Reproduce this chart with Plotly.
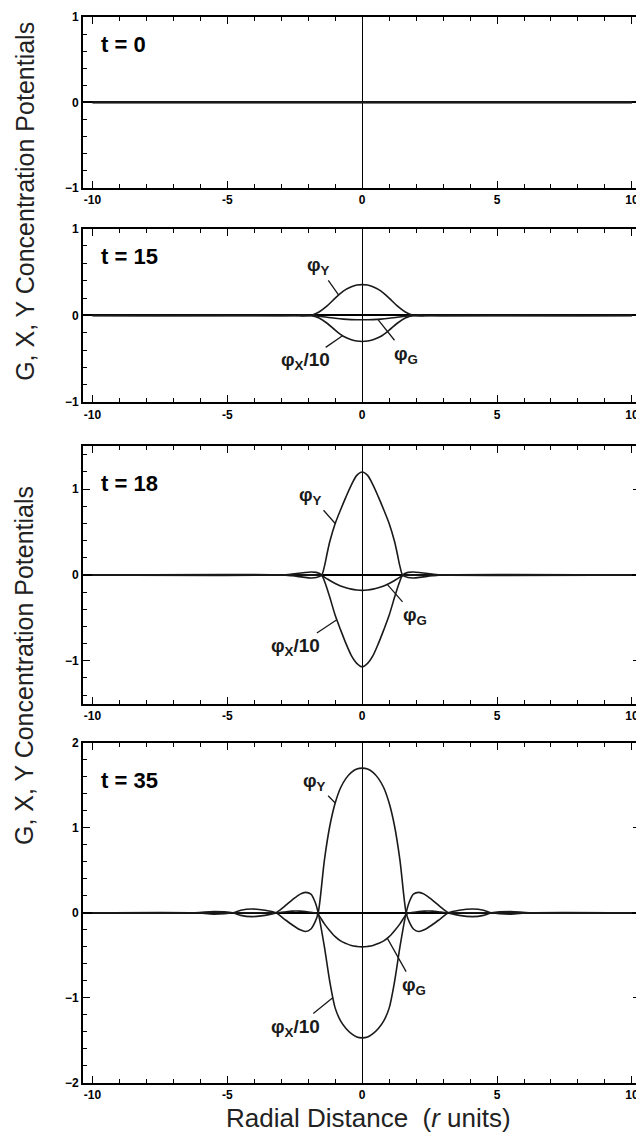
import numpy as np
import plotly.graph_objects as go

# ---------------- data ----------------
T_LABELS = ["t = 0", "t = 15", "t = 18", "t = 35"]
X_TICKS = [-10, -5, 0, 5, 10]
Y_RANGES = [[-1, 1], [-1, 1], [-1.5, 1.5], [-2, 2]]

x_t0 = [-10, 10]
phiY_t0 = [0, 0]
phiX_t0 = [0, 0]
phiG_t0 = [0, 0]

x_t15 = [-10, -2.5, -2.2, -1.9, -1.6, -1.3, -1.0, -0.7, -0.4, -0.2, 0,
         0.2, 0.4, 0.7, 1.0, 1.3, 1.6, 1.9, 2.2, 2.5, 10]
phiY_t15 = [0, 0, -0.005, 0.0, 0.04, 0.11, 0.20, 0.28, 0.33, 0.35, 0.355,
            0.35, 0.33, 0.28, 0.20, 0.11, 0.04, 0.0, -0.005, 0, 0]
phiX_t15 = [0, 0, 0.005, 0.0, -0.03, -0.09, -0.17, -0.24, -0.28, -0.295, -0.30,
            -0.295, -0.28, -0.24, -0.17, -0.09, -0.03, 0.0, 0.005, 0, 0]
phiG_t15 = [0, 0, 0, 0, -0.01, -0.02, -0.032, -0.042, -0.048, -0.05, -0.05,
            -0.05, -0.048, -0.042, -0.032, -0.02, -0.01, 0, 0, 0, 0]

x_t18 = [-10, -3.0, -2.6, -2.2, -1.9, -1.7, -1.5, -1.4, -1.3, -1.2, -1.0, -0.8, -0.6, -0.4, -0.2, 0,
         0.2, 0.4, 0.6, 0.8, 1.0, 1.2, 1.3, 1.4, 1.5, 1.7, 1.9, 2.2, 2.6, 3.0, 10]
phiY_t18 = [0, 0, -0.01, -0.025, -0.035, -0.03, 0.0, 0.10, 0.25, 0.39, 0.60, 0.76, 0.91, 1.05, 1.16, 1.20,
            1.16, 1.05, 0.91, 0.76, 0.60, 0.39, 0.25, 0.10, 0.0, -0.03, -0.035, -0.025, -0.01, 0, 0]
phiX_t18 = [0, 0, 0.01, 0.025, 0.035, 0.03, 0.0, -0.07, -0.16, -0.26, -0.47, -0.64, -0.80, -0.94, -1.03, -1.07,
            -1.03, -0.94, -0.80, -0.64, -0.47, -0.26, -0.16, -0.07, 0.0, 0.03, 0.035, 0.025, 0.01, 0, 0]
phiG_t18 = [0, 0, 0, 0, 0, 0, -0.01, -0.025, -0.045, -0.065, -0.10, -0.13, -0.15, -0.165, -0.175, -0.18,
            -0.175, -0.165, -0.15, -0.13, -0.10, -0.065, -0.045, -0.025, -0.01, 0, 0, 0, 0, 0, 0]

x_t35 = [-10, -6.2, -5.5, -4.8, -4.5, -4.1, -3.6, -3.2, -2.9, -2.6, -2.3, -2.1, -1.9, -1.75, -1.63,
         -1.4, -1.2, -1.0, -0.8, -0.6, -0.4, -0.2, 0,
         0.2, 0.4, 0.6, 0.8, 1.0, 1.2, 1.4,
         1.63, 1.75, 1.9, 2.1, 2.3, 2.6, 2.9, 3.2, 3.6, 4.1, 4.5, 4.8, 5.5, 6.2, 10]
phiY_t35 = [0, 0, -0.015, 0, 0.03, 0.045, 0.03, 0, -0.07, -0.14, -0.20, -0.22, -0.19, -0.11, 0.0,
            0.62, 1.02, 1.29, 1.47, 1.58, 1.65, 1.69, 1.70,
            1.69, 1.65, 1.58, 1.47, 1.29, 1.02, 0.62,
            0.0, -0.11, -0.19, -0.22, -0.20, -0.14, -0.07, 0, 0.03, 0.045, 0.03, 0, -0.015, 0, 0]
phiX_t35 = [0, 0, 0.015, 0, -0.03, -0.045, -0.03, 0, 0.07, 0.15, 0.22, 0.24, 0.22, 0.13, 0.0,
            -0.40, -0.81, -1.12, -1.27, -1.36, -1.42, -1.46, -1.47,
            -1.46, -1.42, -1.36, -1.27, -1.12, -0.81, -0.40,
            0.0, 0.13, 0.22, 0.24, 0.22, 0.15, 0.07, 0, -0.03, -0.045, -0.03, 0, 0.015, 0, 0]
phiG_t35 = [0, 0, 0, 0, 0, 0, 0, 0, 0.01, 0.02, 0.02, 0.015, 0.005, 0.0, -0.02,
            -0.13, -0.21, -0.28, -0.33, -0.36, -0.385, -0.395, -0.40,
            -0.395, -0.385, -0.36, -0.33, -0.28, -0.21, -0.13,
            -0.02, 0.0, 0.005, 0.015, 0.02, 0.02, 0.01, 0, 0, 0, 0, 0, 0, 0, 0]

PANELS = [
    (x_t0, phiY_t0, phiX_t0, phiG_t0),
    (x_t15, phiY_t15, phiX_t15, phiG_t15),
    (x_t18, phiY_t18, phiX_t18, phiG_t18),
    (x_t35, phiY_t35, phiX_t35, phiG_t35),
]

# curve labels: (text, curve index, x on curve, label x, label y) per panel
CURVE_LABELS = [
    [],
    [("φ<sub>Y</sub>", 0, -0.87, -1.63, 0.57),
     ("φ<sub>G</sub>", 2, 0.58, 1.62, -0.45),
     ("φ<sub>X</sub>/10", 1, -0.73, -2.1, -0.53)],
    [("φ<sub>Y</sub>", 0, -1.0, -1.9, 0.92),
     ("φ<sub>G</sub>", 2, 0.93, 1.96, -0.48),
     ("φ<sub>X</sub>/10", 1, -0.94, -2.46, -0.84)],
    [("φ<sub>Y</sub>", 0, -1.0, -1.77, 1.54),
     ("φ<sub>G</sub>", 2, 0.93, 1.93, -0.86),
     ("φ<sub>X</sub>/10", 1, -1.08, -2.46, -1.35)],
]
T_LABEL_Y = [0.68, 0.68, 1.07, 1.56]

# ---------------- layout geometry ----------------
# the page body has an 8px margin, so the figure is drawn 8px smaller and
# all screen positions below are shifted by that offset
OFF = 8
W, H = 644 - OFF, 1144 - OFF
ML, MR, MT = 83 - OFF, 2, 15 - OFF
MB = H - (1083 - OFF)
panel_px = [(15, 186), (227, 401), (445, 703), (742, 1083)]  # screen top, bottom
plot_w = W - ML - MR
plot_h = H - MT - MB


def dom(top, bot):
    return [(H - MB - (bot - OFF)) / plot_h, (H - MB - (top - OFF)) / plot_h]


def paper_x(px):
    return (px - OFF - ML) / plot_w


def paper_y(py):
    return (H - MB - (py - OFF)) / plot_h


fig = go.Figure()
LINE = dict(color="#1a1a1a", width=1.6)
FAM = "Liberation Sans, Arial, sans-serif"
tickfont = dict(family=FAM, size=12, color="black", weight="bold")

for i, (xs, yY, yX, yG) in enumerate(PANELS):
    xa = "x" if i == 0 else f"x{i+1}"
    ya = "y" if i == 0 else f"y{i+1}"
    for ys in (yY, yX, yG):
        fig.add_trace(go.Scatter(x=xs, y=ys, mode="lines", xaxis=xa, yaxis=ya,
                                 line=dict(shape="spline", smoothing=0.8, **LINE),
                                 showlegend=False, hoverinfo="skip"))
    top, bot = panel_px[i]
    axkey = "xaxis" if i == 0 else f"xaxis{i+1}"
    aykey = "yaxis" if i == 0 else f"yaxis{i+1}"
    fig.update_layout({
        axkey: dict(domain=[0, 1], anchor=ya, range=[-10.35, 10.3],
                    tickmode="array", tickvals=X_TICKS, ticktext=[str(v) for v in X_TICKS],
                    ticks="inside", ticklen=7, tickwidth=1.2, tickcolor="black",
                    minor=dict(dtick=1, tick0=0, ticks="inside", ticklen=4, tickwidth=1, tickcolor="black"),
                    showline=True, linewidth=2, linecolor="black", mirror="ticks",
                    showgrid=False, zeroline=True, zerolinecolor="black", zerolinewidth=1.2,
                    tickfont=tickfont, fixedrange=True),
        aykey: dict(domain=dom(top, bot), anchor=xa, range=Y_RANGES[i],
                    dtick=1, tick0=0,
                    ticks="inside", ticklen=7, tickwidth=1.2, tickcolor="black",
                    minor=dict(dtick=0.2, tick0=0, ticks="inside", ticklen=4, tickwidth=1, tickcolor="black"),
                    showline=True, linewidth=2, linecolor="black", mirror="ticks",
                    showgrid=False, zeroline=True, zerolinecolor="black", zerolinewidth=1.6,
                    tickfont=tickfont, fixedrange=True),
    })
    # t label
    fig.add_annotation(x=-9.75, y=T_LABEL_Y[i], xref=xa, yref=ya, text=T_LABELS[i],
                       showarrow=False, xanchor="left", yanchor="middle",
                       font=dict(family=FAM, size=22, color="black", weight="bold"))
    # curve labels with leader lines
    curves = (yY, yX, yG)
    for text, ci, xp, lx, ly in CURVE_LABELS[i]:
        yp = float(np.interp(xp, xs, curves[ci]))
        fig.add_annotation(x=xp, y=yp, xref=xa, yref=ya, ax=lx, ay=ly, axref=xa, ayref=ya,
                           text=text, showarrow=True, arrowhead=0, arrowwidth=1.3,
                           arrowcolor="#1a1a1a", standoff=0, startstandoff=1,
                           font=dict(family=FAM, size=19, color="#1a1a1a", weight="bold"))

# axis titles
title_font = dict(family=FAM, size=25, color="#222")
for yc in (200, 665):
    fig.add_annotation(x=paper_x(24), y=paper_y(yc), xref="paper", yref="paper",
                       text="G, X, Y Concentration Potentials", textangle=-90, showarrow=False,
                       xanchor="center", yanchor="middle", font=title_font)
fig.add_annotation(x=paper_x(370), y=paper_y(1118), xref="paper", yref="paper",
                   text="Radial Distance\u00a0\u00a0(<i>r</i> units)", showarrow=False,
                   xanchor="center", yanchor="middle", font=dict(title_font, size=26))

fig.update_layout(width=W, height=H, margin=dict(l=ML, r=MR, t=MT, b=MB),
                  paper_bgcolor="white", plot_bgcolor="white", showlegend=False)

fig.write_html("out.html")
